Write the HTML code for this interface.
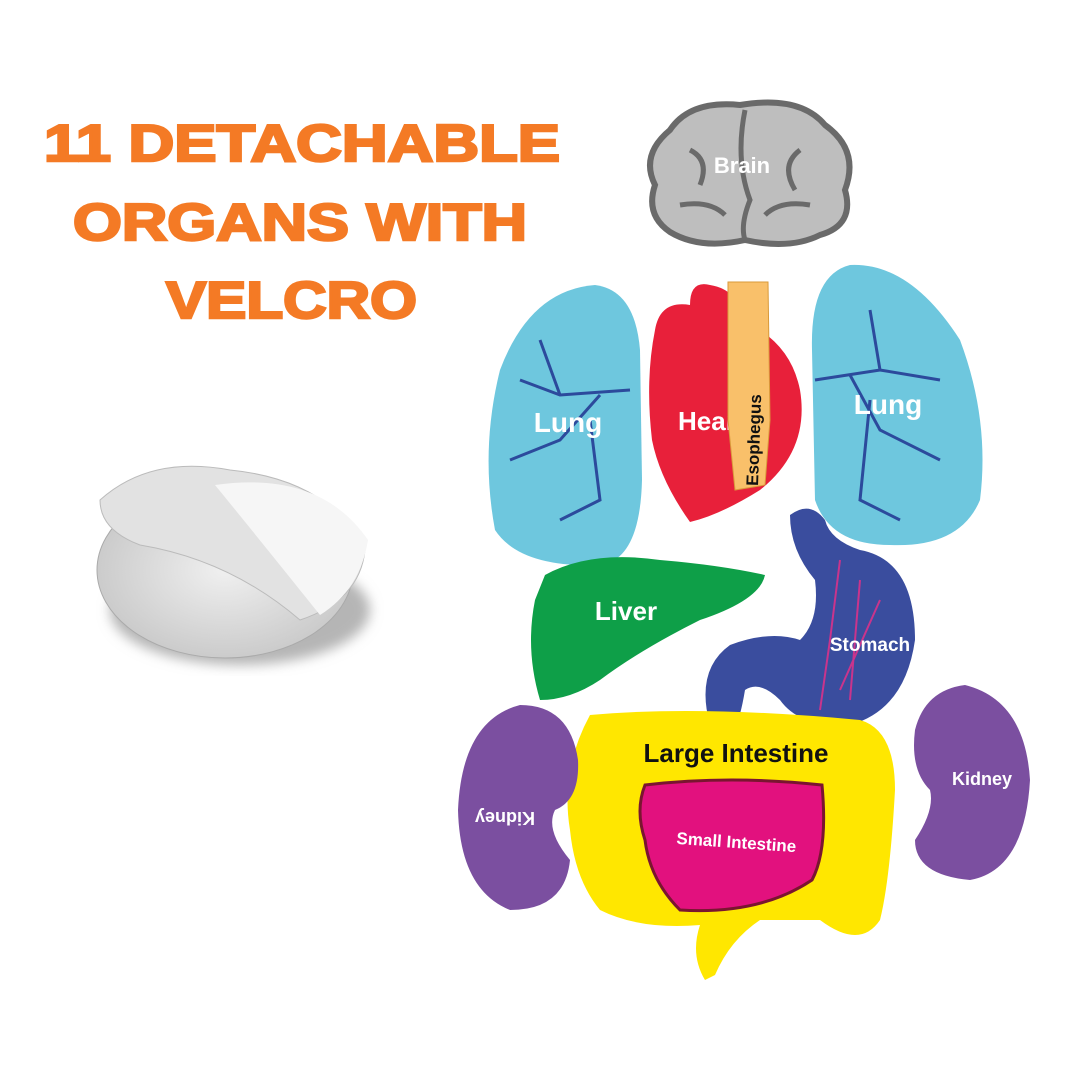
<!DOCTYPE html>
<html><head><meta charset="utf-8"><style>
html,body{margin:0;padding:0;background:#fff;}
svg{display:block}
</style></head><body>
<svg width="1080" height="1080" viewBox="0 0 1080 1080" xmlns="http://www.w3.org/2000/svg">
<rect width="1080" height="1080" fill="#fff"/>
<g font-family="Liberation Sans, sans-serif" font-weight="bold" fill="#F47A25" stroke="#F47A25" stroke-width="2.5" font-size="52" text-anchor="start">
<text x="44" y="161" textLength="516" lengthAdjust="spacingAndGlyphs">11 DETACHABLE</text>
<text x="73" y="240" textLength="454" lengthAdjust="spacingAndGlyphs">ORGANS WITH</text>
<text x="166" y="318" textLength="251" lengthAdjust="spacingAndGlyphs">VELCRO</text>
</g>
<!-- velcro patch -->
<defs>
<radialGradient id="vg" cx="0.5" cy="0.5" r="0.6"><stop offset="0" stop-color="#f0f0f0"/><stop offset="1" stop-color="#c4c4c4"/></radialGradient>
<filter id="sh"><feGaussianBlur stdDeviation="6"/></filter>
</defs>
<ellipse cx="240" cy="610" rx="130" ry="55" fill="#b5b5b5" filter="url(#sh)"/>
<ellipse cx="225" cy="570" rx="128" ry="88" fill="url(#vg)" stroke="#aaa"/>
<path d="M100 500 Q150 455 230 470 Q330 480 365 550 Q360 600 300 620 Q230 560 140 545 Q100 530 100 500Z" fill="#e2e2e2" stroke="#bbb"/>
<path d="M215 485 Q320 470 368 540 Q360 590 320 615 Q260 540 215 485Z" fill="#f6f6f6"/>
<!-- brain -->
<path d="M670 130 Q690 100 740 105 Q800 95 825 125 Q860 150 845 190 Q855 225 820 235 Q790 250 745 240 Q700 250 670 232 Q645 215 655 185 Q640 155 670 130Z" fill="#BEBEBE" stroke="#6a6a6a" stroke-width="6"/>
<path d="M745 110 Q735 160 750 200 Q740 225 745 240 M690 150 Q710 160 700 185 M800 150 Q780 165 795 190 M680 205 Q710 200 725 215 M810 205 Q780 200 765 215" stroke="#6a6a6a" stroke-width="5" fill="none"/>
<text x="742" y="173" font-family="Liberation Sans, sans-serif" font-weight="bold" font-size="22" fill="#fff" text-anchor="middle">Brain</text>
<!-- lungs -->
<path d="M595 285 Q635 290 640 350 L642 480 Q640 560 600 565 Q520 568 495 530 Q480 450 500 370 Q530 290 595 285Z" fill="#6EC7DE"/>
<path d="M630 390 L560 395 L520 380 M600 395 L560 440 L510 460 M590 420 L600 500 L560 520 M560 395 L540 340" stroke="#2C4A9C" stroke-width="3" fill="none"/>
<path d="M850 265 Q810 275 812 350 L815 500 Q830 545 890 545 Q960 548 980 500 Q990 420 960 340 Q910 262 850 265Z" fill="#6EC7DE"/>
<path d="M815 380 L880 370 L940 380 M850 375 L880 430 L940 460 M870 400 L860 500 L900 520 M880 370 L870 310" stroke="#2C4A9C" stroke-width="3" fill="none"/>
<g font-family="Liberation Sans, sans-serif" font-weight="bold" font-size="28" fill="#fff" text-anchor="middle">
<text x="568" y="432">Lung</text><text x="888" y="414">Lung</text></g>
<!-- heart -->
<path d="M655 330 Q660 300 690 305 Q690 280 710 285 Q740 290 740 320 Q790 340 800 390 Q810 450 760 490 Q720 515 690 522 Q660 480 652 440 Q645 380 655 330Z" fill="#E8203A"/>
<text x="678" y="430" font-family="Liberation Sans, sans-serif" font-weight="bold" font-size="26" fill="#fff">Heart</text>
<!-- esophagus -->
<path d="M728 282 L768 282 L770 420 L765 485 L735 490 L728 420 Z" fill="#F9C06A" stroke="#d99a3a"/>
<text transform="translate(758 486) rotate(-88)" font-family="Liberation Sans, sans-serif" font-weight="bold" font-size="17" fill="#111">Esophegus</text>
<!-- liver -->
<path d="M545 575 Q590 550 660 560 Q720 565 765 575 Q760 600 700 620 Q640 650 600 680 Q570 700 540 700 Q525 650 535 600 Z" fill="#0E9F48"/>
<text x="626" y="620" font-family="Liberation Sans, sans-serif" font-weight="bold" font-size="26" fill="#fff" text-anchor="middle">Liver</text>
<!-- stomach -->
<path d="M790 515 Q810 500 825 520 Q830 540 860 550 Q915 560 915 640 Q905 710 850 725 Q800 728 780 700 Q760 680 745 690 Q740 720 735 725 L710 725 Q695 670 730 645 Q770 630 800 640 Q820 620 815 580 Q790 550 790 515Z" fill="#3A4D9E"/>
<path d="M840 560 L830 640 L820 710 M860 580 L850 700 M880 600 L840 690" stroke="#C9348C" stroke-width="2" fill="none"/>
<text x="870" y="651" font-family="Liberation Sans, sans-serif" font-weight="bold" font-size="19" fill="#fff" text-anchor="middle">Stomach</text>
<!-- large intestine -->
<path d="M590 715 Q700 705 860 720 Q895 730 895 790 Q890 880 880 920 Q860 950 820 920 L760 920 Q730 940 715 975 L705 980 Q690 955 700 925 Q640 930 600 910 Q575 880 570 830 Q560 770 590 715Z" fill="#FFE700"/>
<text x="736" y="762" font-family="Liberation Sans, sans-serif" font-weight="bold" font-size="26" fill="#111" text-anchor="middle">Large Intestine</text>
<!-- small intestine -->
<path d="M645 785 Q730 775 822 785 Q828 850 812 880 Q760 915 680 910 Q650 880 645 840 Q635 810 645 785Z" fill="#E2117E" stroke="#7a1530" stroke-width="3"/>
<text x="736" y="848" transform="rotate(4 736 848)" font-family="Liberation Sans, sans-serif" font-weight="bold" font-size="17" fill="#fff" text-anchor="middle">Small Intestine</text>
<!-- kidneys -->
<path d="M520 705 Q570 705 578 760 Q580 800 555 810 Q545 830 570 860 Q565 910 510 910 Q460 890 458 810 Q462 720 520 705Z" fill="#7B4FA0"/>
<text x="505" y="812" transform="rotate(180 505 812)" font-family="Liberation Sans, sans-serif" font-weight="bold" font-size="18" fill="#fff" text-anchor="middle">Kidney</text>
<path d="M965 685 Q1025 700 1030 780 Q1025 870 970 880 Q915 875 915 840 Q935 810 930 790 Q910 770 915 730 Q925 690 965 685Z" fill="#7B4FA0"/>
<text x="982" y="785" font-family="Liberation Sans, sans-serif" font-weight="bold" font-size="18" fill="#fff" text-anchor="middle">Kidney</text>
</svg>
</body></html>
